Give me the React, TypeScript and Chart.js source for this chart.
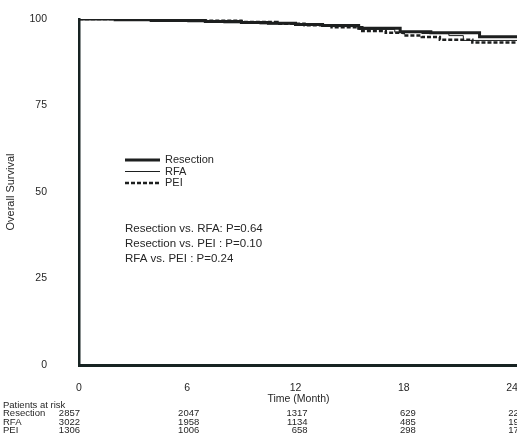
import React, { useEffect, useRef } from "react";
import { Chart, registerables } from "chart.js";

Chart.register(...registerables);

// ---- data ----
const groupNames = ["Resection", "RFA", "PEI"];

const resectionTimes = [0, 2, 4, 7, 9, 10.5, 12, 13.5, 15.5, 17.8, 19.5, 22.2, 25.5];
const resectionSurvival = [100, 99.8, 99.6, 99.3, 99.0, 98.8, 98.4, 98.1, 97.3, 96.3, 96.0, 94.9, 94.9];

const rfaTimes = [0, 2, 4, 6, 8, 10, 12, 14, 15.5, 17.5, 19, 20.5, 21.3, 25.5];
const rfaSurvival = [100, 99.8, 99.5, 99.2, 98.9, 98.6, 98.2, 97.8, 97.0, 96.2, 95.8, 95.2, 93.8, 93.6];

const peiTimes = [0, 3, 6, 9, 11, 12.5, 14, 15.7, 17, 18, 19, 20, 21.8, 25.5];
const peiSurvival = [100, 99.8, 99.5, 99.1, 98.6, 98.2, 97.6, 96.5, 96.0, 95.2, 94.8, 94.0, 93.2, 93.0];

const xTicks = [0, 6, 12, 18, 24];
const yTicks = [0, 25, 50, 75, 100];

const riskTimes = [0, 6, 12, 18, 24];
const riskResection = [2857, 2047, 1317, 629, 223];
const riskRFA = [3022, 1958, 1134, 485, 193];
const riskPEI = [1306, 1006, 658, 298, 171];

const xTitle = "Time (Month)";
const yTitle = "Overall Survival";

const pValueLines = [
  "Resection vs. RFA: P=0.64",
  "Resection vs. PEI : P=0.10",
  "RFA vs. PEI : P=0.24",
];

const INK = "#1d1f1f";
const AXIS = "#172322";
const TEXT = "#262626";
const FONT = "'Liberation Sans', Arial, sans-serif";
const NARROW = "'Liberation Sans Narrow', 'Liberation Sans', Arial, sans-serif";

function toPoints(t: number[], s: number[]) {
  return t.map((x, i) => ({ x, y: s[i] }));
}

const overlayPlugin = {
  id: "kmOverlay",
  afterDraw(chart: any) {
    const { ctx } = chart;
    const xs = chart.scales.x;
    const ds = chart.data.datasets;
    ctx.save();

    // legend inside the plot
    const legX0 = 125, legX1 = 160;
    const legY = [160, 171.5, 183];
    ds.forEach((d: any, i: number) => {
      ctx.beginPath();
      ctx.strokeStyle = INK;
      ctx.lineWidth = d.borderWidth;
      ctx.setLineDash(d.borderDash || []);
      ctx.moveTo(legX0, legY[i]);
      ctx.lineTo(legX1, legY[i]);
      ctx.stroke();
      ctx.setLineDash([]);
      ctx.fillStyle = TEXT;
      ctx.font = `11px ${FONT}`;
      ctx.textBaseline = "middle";
      ctx.textAlign = "left";
      ctx.fillText(d.label, legX1 + 5, legY[i]);
    });

    // p-values
    ctx.font = `11.5px ${FONT}`;
    ctx.fillStyle = TEXT;
    pValueLines.forEach((line, i) => {
      ctx.fillText(line, 125, 229 + i * 15);
    });

    // x-axis title (centred under the 12-month tick, as in the original)
    ctx.font = `10.5px ${NARROW}`;
    ctx.textAlign = "center";
    ctx.fillText(xTitle, xs.getPixelForValue(12) + 3, 399);

    // risk table
    ctx.font = `9.5px ${NARROW}`;
    ctx.textBaseline = "middle";
    ctx.textAlign = "left";
    ctx.fillText("Patients at risk", 3, 405);
    const rows = [riskResection, riskRFA, riskPEI];
    const rowY = [413.5, 422, 430];
    rows.forEach((vals, r) => {
      ctx.textAlign = "left";
      ctx.fillText(groupNames[r], 3, rowY[r]);
      vals.forEach((v, c) => {
        const px = xs.getPixelForValue(riskTimes[c]);
        ctx.textAlign = "right";
        ctx.fillText(String(v), px + (c === 0 ? 1 : 12), rowY[r]);
      });
    });
    ctx.restore();
  },
};

export default function App() {
  const ref = useRef<HTMLCanvasElement | null>(null);

  useEffect(() => {
    if (!ref.current) return;
    const chart = new Chart(ref.current, {
      type: "line",
      data: {
        datasets: [
          {
            label: groupNames[0],
            data: toPoints(resectionTimes, resectionSurvival),
            borderColor: INK,
            borderWidth: 3,
            stepped: true,
            pointRadius: 0,
            fill: false,
          },
          {
            label: groupNames[1],
            data: toPoints(rfaTimes, rfaSurvival),
            borderColor: INK,
            borderWidth: 1,
            stepped: true,
            pointRadius: 0,
            fill: false,
          },
          {
            label: groupNames[2],
            data: toPoints(peiTimes, peiSurvival),
            borderColor: INK,
            borderWidth: 2.5,
            borderDash: [4, 2],
            stepped: true,
            pointRadius: 0,
            fill: false,
          },
        ],
      },
      options: {
        animation: false,
        responsive: false,
        maintainAspectRatio: false,
        devicePixelRatio: 1,
        layout: { padding: { top: 19, right: 0, bottom: 0, left: 0 } },
        plugins: {
          legend: { display: false },
          tooltip: { enabled: false },
        },
        scales: {
          x: {
            type: "linear",
            min: 0,
            max: 25.55,
            afterBuildTicks: (s: any) => {
              s.ticks = xTicks.map((v) => ({ value: v }));
            },
            afterFit: (s: any) => {
              s.height = 434 - 365;
            },
            grid: { display: false, drawTicks: true, tickLength: 15 },
            border: { display: true, color: AXIS, width: 3 },
            ticks: {
              color: TEXT,
              font: { family: FONT, size: 10.5 },
              padding: 2,
              maxRotation: 0,
            },
            title: { display: false },
          },
          y: {
            type: "linear",
            min: 0,
            max: 100,
            afterBuildTicks: (s: any) => {
              s.ticks = yTicks.map((v) => ({ value: v }));
            },
            afterFit: (s: any) => {
              s.width = 79;
            },
            grid: { display: false, drawTicks: true, tickLength: 30 },
            border: { display: true, color: AXIS, width: 2.5 },
            ticks: {
              color: TEXT,
              font: { family: FONT, size: 10.5 },
              padding: 2,
            },
            title: {
              display: true,
              text: yTitle,
              color: TEXT,
              font: { family: NARROW, size: 11 },
              padding: { top: 4, bottom: 0 },
            },
          },
        },
      },
      plugins: [overlayPlugin],
    });
    return () => chart.destroy();
  }, []);

  return (
    <div
      style={{
        position: "absolute",
        left: 0,
        top: 0,
        width: 517,
        height: 434,
        overflow: "hidden",
        background: "#ffffff",
      }}
    >
      <canvas ref={ref} width={540} height={434} style={{ display: "block" }} />
    </div>
  );
}
